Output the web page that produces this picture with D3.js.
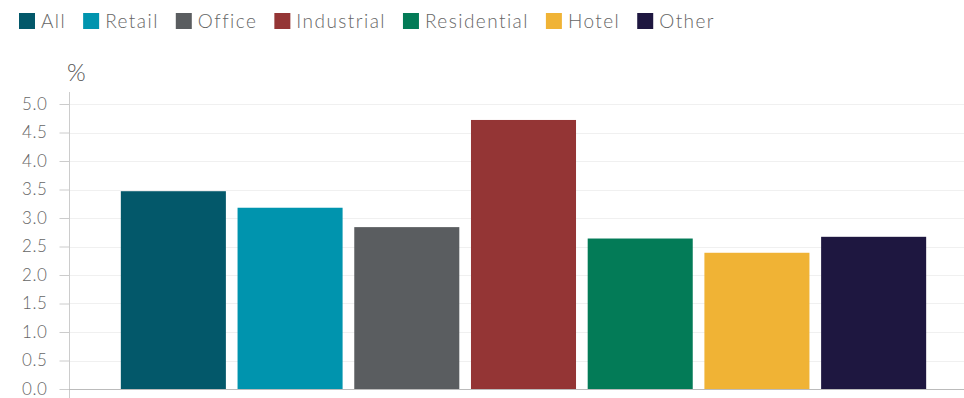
<!DOCTYPE html>
<meta charset="utf-8">
<html>
<head>
    <title>Yields by sector</title>
</head>
<style type="text/css">
    body { margin: 0; background: #fff; }
    text { font-family: Lato, "Open Sans", sans-serif; font-weight: 300; }
</style>
<script src="https://cdn.jsdelivr.net/npm/d3@7"></script>
<body>
<script type="text/javascript">
var categories = ["All", "Retail", "Office", "Industrial", "Residential", "Hotel", "Other"]
var values = [3.47, 3.18, 2.84, 4.72, 2.64, 2.39, 2.67]
var colors = ["#03586a", "#0094ae", "#5a5d60", "#943535", "#037b57", "#f0b335", "#1e1740"]
var yTicks = [0, 0.5, 1, 1.5, 2, 2.5, 3, 3.5, 4, 4.5, 5]

var svgWidth = 964
var svgHeight = 398

var svg = d3.select("body").append("svg")
    .attr("width", svgWidth)
    .attr("height", svgHeight)

var x = d3.scaleBand().domain(categories).range([115, 932]).paddingInner(0.1).paddingOuter(0.05)
var y = d3.scaleLinear().domain([0, 5]).range([389, 104])

// gridlines
svg.append("g").selectAll("line")
    .data(yTicks.slice(1))
    .enter().append("line")
    .attr("x1", 70).attr("x2", svgWidth)
    .attr("y1", d => Math.round(y(d)) + 0.5)
    .attr("y2", d => Math.round(y(d)) + 0.5)
    .attr("stroke", "#f0f0f0")

// bars
svg.append("g").selectAll("rect")
    .data(values)
    .enter().append("rect")
    .attr("x", (d, i) => x(categories[i]))
    .attr("width", x.bandwidth())
    .attr("y", d => y(d))
    .attr("height", d => y(0) - y(d))
    .attr("fill", (d, i) => colors[i])

// y axis
var yAxis = d3.axisLeft(y).tickValues(yTicks).tickFormat(d3.format(".1f")).tickSize(10).tickPadding(12)
var ga = svg.append("g").attr("transform", "translate(69.5,0)").call(yAxis)
ga.select(".domain").remove()
ga.selectAll("line").attr("stroke", "#ccc")
ga.selectAll("text").attr("fill", "#666").style("font-size", "17px")
    .style("font-family", "Lato, sans-serif").style("font-weight", 300)
    .style("letter-spacing", "0.6px")
ga.append("line").attr("y1", 92).attr("y2", svgHeight).attr("stroke", "#ccc")

// x axis baseline
svg.append("line")
    .attr("x1", 69).attr("x2", svgWidth)
    .attr("y1", 389.5).attr("y2", 389.5)
    .attr("stroke", "#bbb")

svg.append("text")
    .attr("x", 67).attr("y", 81)
    .attr("fill", "#555")
    .style("font-size", "24px")
    .text("%")

// legend
var lx = 19
var legend = svg.append("g")
categories.forEach((c, i) => {
    legend.append("rect")
        .attr("x", lx).attr("y", 13)
        .attr("width", 16).attr("height", 16)
        .attr("fill", colors[i])
    var t = legend.append("text")
        .attr("x", lx + 22).attr("y", 28)
        .attr("fill", "#666")
        .style("font-size", "19px")
        .style("letter-spacing", "1.45px")
        .text(c)
    lx += 22 + t.node().getComputedTextLength() + 17
})
</script>
</body>
</html>
